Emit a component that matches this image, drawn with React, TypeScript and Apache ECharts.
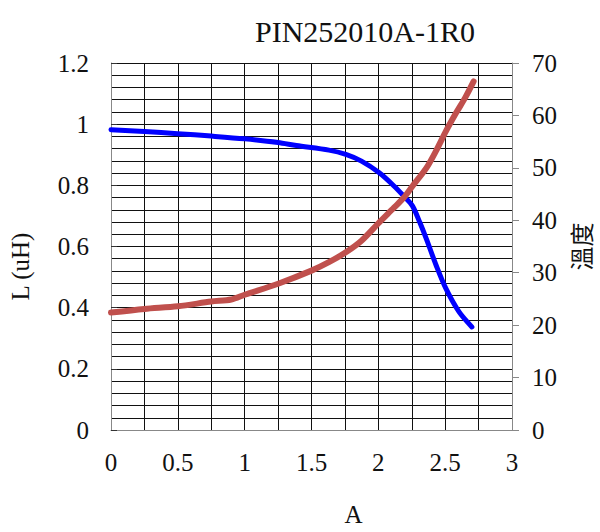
import React, { useEffect, useRef } from "react";
import * as echarts from "echarts";

const chartTitle = "PIN252010A-1R0";
const xName = "A";
const leftName = "L (uH)";
const rightName = "溫度";

// Inductance curve (left axis): current A -> L (uH)
const inductanceX = [0, 0.25, 0.5, 0.75, 1.0, 1.25, 1.387, 1.63, 1.757, 1.874, 2.007, 2.117, 2.19, 2.255, 2.31, 2.36, 2.433, 2.506, 2.604, 2.7];
const inductanceY = [0.982, 0.976, 0.969, 0.961, 0.952, 0.94, 0.93, 0.915, 0.901, 0.879, 0.841, 0.798, 0.765, 0.733, 0.679, 0.624, 0.538, 0.462, 0.386, 0.337];

// Temperature curve (right axis): current A -> temperature
const tempX = [0, 0.25, 0.5, 0.75, 0.9, 1.0, 1.25, 1.5, 1.63, 1.757, 1.874, 2.007, 2.117, 2.19, 2.255, 2.36, 2.433, 2.506, 2.58, 2.65, 2.713];
const tempY = [22.4, 23.1, 23.6, 24.5, 24.9, 25.8, 27.9, 30.4, 32.0, 33.9, 36.1, 39.6, 42.4, 44.3, 46.5, 50.0, 53.3, 57.0, 60.4, 63.4, 66.5];

const FONT = "'Liberation Serif', 'Times New Roman', serif";

export default function App() {
  const ref = useRef<HTMLDivElement>(null);
  useEffect(() => {
    if (!ref.current) return;
    const chart = echarts.init(ref.current, undefined, { renderer: "svg" });
    const labelStyle = { fontFamily: FONT, fontSize: 25, color: "#111" };
    chart.setOption({
      animation: false,
      backgroundColor: "#fff",
      title: {
        text: chartTitle,
        left: 250,
        top: 11,
        textStyle: { fontFamily: FONT, fontSize: 30, fontWeight: "normal", color: "#111" },
      },
      grid: { left: 110, right: 79, top: 63, bottom: 100, containLabel: false },
      xAxis: {
        type: "value",
        min: 0,
        max: 3,
        interval: 0.5,
        name: xName,
        nameLocation: "middle",
        nameGap: 72,
        nameTextStyle: { fontFamily: FONT, fontSize: 25, color: "#111", padding: [0, 0, 0, 84] },
        axisLine: { show: true, lineStyle: { color: "#888", width: 1 } },
        axisTick: { show: false },
        axisLabel: { ...labelStyle, margin: 20 },
        splitLine: { show: true, lineStyle: { color: "#111", width: 1 } },
        minorTick: { show: false, splitNumber: 2 },
        minorSplitLine: { show: true, lineStyle: { color: "#111", width: 1 } },
      },
      yAxis: [
        {
          type: "value",
          min: 0,
          max: 1.2,
          interval: 0.2,
          position: "left",
          name: leftName,
          nameLocation: "middle",
          nameRotate: 90,
          nameGap: 78,
          nameTextStyle: { fontFamily: FONT, fontSize: 25, color: "#111", padding: [0, 0, 0, -40] },
          axisLine: { show: true, lineStyle: { color: "#888", width: 1 } },
          axisTick: { show: true, inside: true, length: 6, lineStyle: { color: "#333" } },
          axisLabel: { ...labelStyle, margin: 22 },
          splitLine: { show: true, lineStyle: { color: "#111", width: 1 } },
          minorTick: { show: false, splitNumber: 5 },
          minorSplitLine: { show: true, lineStyle: { color: "#111", width: 1 } },
        },
        {
          type: "value",
          min: 0,
          max: 70,
          interval: 10,
          position: "right",
          name: rightName,
          nameLocation: "middle",
          nameRotate: 90,
          nameGap: 56,
          nameTextStyle: { fontFamily: "'Noto Sans CJK TC', sans-serif", fontSize: 24, color: "#111" },
          axisLine: { show: true, lineStyle: { color: "#888", width: 1 } },
          axisTick: { show: true, inside: false, length: 7, lineStyle: { color: "#888" } },
          axisLabel: { ...labelStyle, margin: 20 },
          splitLine: { show: false },
        },
      ],
      series: [
        {
          type: "line",
          name: "L",
          yAxisIndex: 0,
          data: inductanceX.map((x, i) => [x, inductanceY[i]]),
          smooth: 0.3,
          showSymbol: false,
          lineStyle: { color: "#0000FF", width: 5, cap: "round", join: "round" },
          z: 3,
        },
        {
          type: "line",
          name: "Temp",
          yAxisIndex: 1,
          data: tempX.map((x, i) => [x, tempY[i]]),
          smooth: 0.3,
          showSymbol: false,
          lineStyle: { color: "#C0504D", width: 6, cap: "round", join: "round" },
          z: 4,
        },
      ],
    });
    return () => chart.dispose();
  }, []);
  return (
    <div
      ref={ref}
      style={{ position: "fixed", left: 0, top: 0, width: 600, height: 532 }}
    />
  );
}
